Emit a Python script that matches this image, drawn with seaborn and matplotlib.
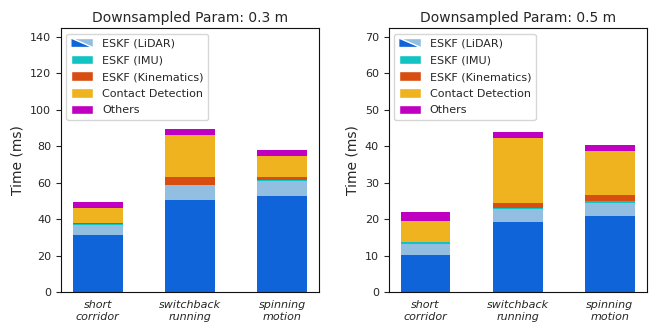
import numpy as np
import pandas as pd
import seaborn as sns
import matplotlib
matplotlib.use("Agg")
import matplotlib.pyplot as plt
from matplotlib.patches import Polygon, Patch
from matplotlib.legend_handler import HandlerBase

# categories and per-component timings (ms)
categories = ["short\ncorridor", "switchback\nrunning", "spinning\nmotion"]
components = ["lidar_a", "lidar_b", "imu", "kinematics", "contact", "others"]

# Downsampled Param: 0.3 m
lidar_a_03 = [31.3, 50.5, 52.7]
lidar_b_03 = [5.5, 8.3, 8.2]
imu_03 = [0.7, 0.2, 0.6]
kin_03 = [0.4, 4.2, 1.7]
contact_03 = [8.2, 23.0, 11.5]
others_03 = [3.3, 3.3, 3.3]

# Downsampled Param: 0.5 m
lidar_a_05 = [10.2, 19.2, 20.9]
lidar_b_05 = [3.0, 3.6, 3.5]
imu_05 = [0.5, 0.3, 0.6]
kin_05 = [0.1, 1.3, 1.6]
contact_05 = [5.8, 17.9, 12.1]
others_05 = [2.5, 1.6, 1.7]

titles = ["Downsampled Param: 0.3 m", "Downsampled Param: 0.5 m"]
ylims = [145, 72.5]
yticks = [np.arange(0, 141, 20), np.arange(0, 71, 10)]

colors = {
    "lidar_a": "#0e64d8",
    "lidar_b": "#92bee1",
    "imu": "#12c3c3",
    "kinematics": "#d84e11",
    "contact": "#eeb31f",
    "others": "#c000c0",
}

panels = [
    [lidar_a_03, lidar_b_03, imu_03, kin_03, contact_03, others_03],
    [lidar_a_05, lidar_b_05, imu_05, kin_05, contact_05, others_05],
]


class SplitHandler(HandlerBase):
    # two-tone diagonal patch for the LiDAR entry
    def create_artists(self, legend, orig_handle, xdescent, ydescent,
                       width, height, fontsize, trans):
        x0, y0 = -xdescent, -ydescent
        lower = Polygon([[x0, y0], [x0, y0 + height], [x0 + width, y0]],
                        closed=True, facecolor=colors["lidar_a"], transform=trans)
        upper = Polygon([[x0, y0 + height], [x0 + width, y0 + height], [x0 + width, y0]],
                        closed=True, facecolor=colors["lidar_b"], transform=trans)
        return [upper, lower]


sns.set_style("ticks")
plt.rcParams["font.family"] = ["DejaVu Sans"]

fig, axes = plt.subplots(1, 2, figsize=(6.54, 3.25), dpi=100)
fig.subplots_adjust(left=0.093, right=0.989, top=0.914, bottom=0.1015, wspace=0.27)

for ax, vals, title, ylim, yt in zip(axes, panels, titles, ylims, yticks):
    df = pd.DataFrame({c: v for c, v in zip(components, vals)})
    cum = df[components].cumsum(axis=1)
    cum["category"] = categories
    # draw cumulative heights from the top layer down so each one overlays the next
    for comp in reversed(components):
        sns.barplot(data=cum, x="category", y=comp, color=colors[comp],
                    width=0.54, saturation=1, ax=ax, linewidth=0)
    ax.set_xlim(-0.4, 2.4)
    ax.set_ylim(0, ylim)
    ax.set_yticks(yt)
    ax.set_xlabel("")
    ax.set_ylabel("Time (ms)", fontsize=10)
    ax.set_title(title, fontsize=10, pad=4)
    ax.tick_params(axis="x", length=0, labelsize=8, pad=6)
    ax.tick_params(axis="y", labelsize=8)
    for lab in ax.get_xticklabels():
        lab.set_fontstyle("italic")
    for sp in ax.spines.values():
        sp.set_visible(True)
        sp.set_color("#111111")

    handles = [
        Patch(label="lidar"),
        Patch(facecolor=colors["imu"]),
        Patch(facecolor=colors["kinematics"]),
        Patch(facecolor=colors["contact"]),
        Patch(facecolor=colors["others"]),
    ]
    labels = ["ESKF (LiDAR)", "ESKF (IMU)", "ESKF (Kinematics)",
              "Contact Detection", "Others"]
    ax.legend(handles, labels, loc="upper left", fontsize=8, labelspacing=0.55,
              handleheight=0.95, handler_map={handles[0]: SplitHandler()})

fig.savefig("out.png", dpi=100)
